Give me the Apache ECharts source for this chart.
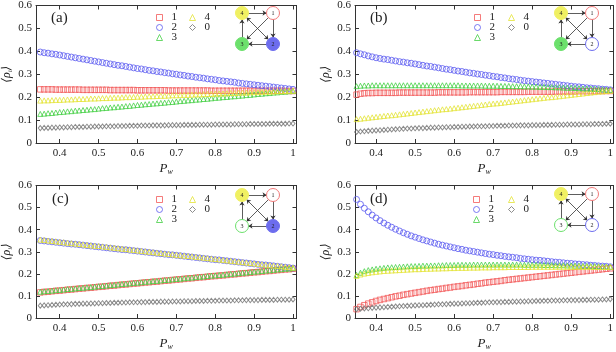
<!DOCTYPE html>
<html><head><meta charset="utf-8">
<script src="https://cdn.jsdelivr.net/npm/echarts@6/dist/echarts.min.js"></script>
<style>html,body{margin:0;padding:0;background:#fff}#c{width:616px;height:352px}</style>
</head><body><div id="c"></div>
<script>
const xs = [0.35,0.36,0.37,0.38,0.39,0.40,0.41,0.42,0.43,0.44,0.45,0.46,0.47,0.48,0.49,0.50,0.51,0.52,0.53,0.54,0.55,0.56,0.57,0.58,0.59,0.60,0.61,0.62,0.63,0.64,0.65,0.66,0.67,0.68,0.69,0.70,0.71,0.72,0.73,0.74,0.75,0.76,0.77,0.78,0.79,0.80,0.81,0.82,0.83,0.84,0.85,0.86,0.87,0.88,0.89,0.90,0.91,0.92,0.93,0.94,0.95,0.96,0.97,0.98,0.99,1.00];
const xTicks = [0.4,0.5,0.6,0.7,0.8,0.9,1.0];
const seriesNames = ['1','2','3','4','0'];
const panelLabels = ['(a)','(b)','(c)','(d)'];
const xName = 'P';
const xSub = 'w';

// panel (a)
const a1 = [.234,.234,.234,.234,.233,.233,.233,.233,.233,.233,.233,.232,.232,.232,.232,.232,.232,.232,.231,.231,.231,.231,.231,.231,.231,.230,.230,.230,.230,.230,.230,.230,.230,.229,.229,.229,.229,.229,.229,.229,.229,.229,.229,.229,.228,.228,.228,.228,.228,.228,.228,.228,.228,.228,.228,.228,.228,.228,.228,.228,.228,.228,.228,.227,.227,.227];
const a2 = [.397,.394,.392,.389,.387,.384,.381,.378,.375,.372,.369,.366,.363,.360,.357,.354,.351,.348,.345,.342,.339,.337,.334,.331,.328,.325,.323,.320,.317,.315,.312,.310,.307,.305,.302,.300,.297,.295,.292,.290,.287,.285,.283,.280,.278,.276,.273,.271,.269,.267,.265,.262,.260,.258,.256,.254,.252,.250,.248,.246,.244,.242,.240,.238,.236,.234];
const a3 = [.127,.128,.130,.131,.133,.135,.136,.138,.139,.141,.142,.144,.145,.147,.148,.150,.152,.153,.155,.156,.158,.159,.161,.162,.164,.166,.167,.169,.170,.172,.173,.175,.176,.178,.179,.181,.183,.184,.186,.187,.189,.190,.192,.193,.195,.197,.198,.200,.201,.203,.204,.206,.207,.209,.210,.212,.214,.215,.217,.218,.220,.221,.223,.224,.226,.227];
const a4 = [.185,.186,.186,.187,.188,.188,.189,.190,.190,.191,.192,.192,.193,.194,.194,.195,.196,.196,.197,.198,.198,.199,.200,.200,.201,.202,.202,.203,.204,.204,.205,.206,.206,.207,.208,.208,.209,.210,.210,.211,.212,.212,.213,.214,.214,.215,.216,.216,.217,.218,.218,.219,.220,.220,.221,.222,.222,.223,.224,.224,.225,.226,.226,.227,.228,.228];
const a0 = [.065,.066,.066,.067,.067,.068,.068,.069,.069,.070,.070,.070,.071,.071,.072,.072,.072,.073,.073,.073,.074,.074,.074,.075,.075,.075,.076,.076,.076,.077,.077,.077,.077,.078,.078,.078,.078,.079,.079,.079,.079,.080,.080,.080,.080,.081,.081,.081,.081,.081,.082,.082,.082,.082,.083,.083,.083,.083,.083,.084,.084,.084,.084,.084,.085,.085];
// panel (b)
const b1 = [.211,.215,.217,.218,.218,.219,.219,.219,.219,.219,.219,.220,.220,.220,.220,.220,.220,.220,.220,.220,.220,.221,.221,.221,.221,.221,.221,.221,.221,.222,.222,.222,.222,.222,.222,.222,.222,.223,.223,.223,.223,.223,.223,.223,.224,.224,.224,.224,.224,.224,.224,.225,.225,.225,.225,.225,.225,.226,.226,.226,.226,.226,.227,.227,.227,.227];
const b2 = [.394,.389,.385,.380,.376,.372,.369,.366,.364,.361,.358,.355,.353,.350,.348,.345,.342,.339,.336,.334,.331,.328,.325,.322,.320,.317,.314,.312,.309,.306,.304,.301,.299,.296,.294,.291,.289,.286,.284,.281,.279,.277,.274,.272,.270,.268,.266,.264,.262,.260,.258,.256,.254,.252,.250,.248,.246,.245,.243,.241,.240,.238,.237,.235,.234,.232];
const b3 = [.248,.250,.251,.251,.252,.252,.252,.252,.252,.252,.252,.252,.252,.252,.252,.252,.252,.252,.252,.252,.252,.252,.252,.252,.252,.252,.252,.251,.251,.251,.251,.251,.251,.250,.250,.250,.250,.249,.249,.249,.248,.248,.248,.247,.247,.246,.246,.245,.245,.244,.244,.243,.243,.242,.241,.241,.240,.239,.238,.238,.237,.236,.235,.234,.233,.232];
const b4 = [.104,.106,.108,.110,.112,.114,.116,.118,.120,.121,.123,.125,.127,.129,.131,.133,.135,.137,.139,.141,.143,.145,.147,.148,.150,.152,.154,.156,.158,.160,.162,.164,.166,.168,.170,.172,.173,.175,.177,.179,.181,.183,.185,.187,.189,.191,.193,.195,.197,.199,.200,.202,.204,.206,.208,.210,.212,.214,.216,.218,.220,.222,.224,.225,.227,.228];
const b0 = [.048,.050,.051,.053,.054,.055,.056,.057,.058,.059,.060,.061,.062,.063,.063,.064,.065,.065,.066,.067,.067,.068,.068,.069,.069,.070,.070,.071,.071,.072,.072,.073,.073,.073,.074,.074,.075,.075,.075,.076,.076,.076,.077,.077,.077,.078,.078,.078,.079,.079,.079,.080,.080,.080,.081,.081,.081,.081,.082,.082,.082,.083,.083,.083,.084,.084];
// panel (c)
const c1 = [.116,.118,.119,.121,.123,.124,.126,.128,.129,.131,.133,.134,.136,.137,.139,.141,.142,.144,.146,.147,.149,.151,.152,.154,.156,.157,.159,.161,.162,.164,.165,.167,.169,.170,.172,.174,.175,.177,.179,.180,.182,.184,.185,.187,.189,.190,.192,.193,.195,.197,.198,.200,.202,.203,.205,.207,.208,.210,.212,.213,.215,.217,.218,.220,.221,.223];
const c2 = [.351,.349,.347,.345,.343,.341,.339,.337,.335,.334,.332,.330,.328,.326,.324,.322,.320,.318,.316,.314,.312,.310,.309,.307,.305,.303,.301,.299,.297,.295,.293,.291,.289,.287,.286,.284,.282,.280,.278,.276,.274,.272,.270,.268,.266,.264,.263,.261,.259,.257,.255,.253,.251,.249,.247,.245,.243,.241,.240,.238,.236,.234,.232,.230,.228,.226];
const c3 = [.119,.121,.122,.124,.126,.127,.129,.131,.132,.134,.136,.137,.139,.140,.142,.144,.145,.147,.149,.150,.152,.154,.155,.157,.159,.160,.162,.164,.165,.167,.168,.170,.172,.173,.175,.177,.178,.180,.182,.183,.185,.187,.188,.190,.192,.193,.195,.196,.198,.200,.201,.203,.205,.206,.208,.210,.211,.213,.215,.216,.218,.220,.221,.223,.224,.226];
const c4 = [.355,.353,.351,.349,.347,.345,.343,.341,.339,.337,.335,.333,.331,.329,.327,.326,.324,.322,.320,.318,.316,.314,.312,.310,.308,.306,.304,.302,.300,.298,.296,.294,.292,.290,.288,.286,.284,.282,.281,.279,.277,.275,.273,.271,.269,.267,.265,.263,.261,.259,.257,.255,.253,.251,.249,.247,.245,.243,.241,.239,.237,.236,.234,.232,.230,.228];
const c0 = [.056,.057,.058,.059,.060,.061,.062,.062,.063,.064,.064,.065,.065,.066,.066,.067,.067,.068,.068,.069,.069,.070,.070,.071,.071,.071,.072,.072,.073,.073,.073,.074,.074,.074,.075,.075,.075,.076,.076,.076,.077,.077,.077,.078,.078,.078,.079,.079,.079,.079,.080,.080,.080,.081,.081,.081,.081,.082,.082,.082,.082,.083,.083,.083,.083,.084];
// panel (d)
const d1 = [.040,.050,.058,.065,.071,.077,.082,.086,.090,.094,.098,.101,.105,.108,.111,.114,.117,.120,.123,.126,.128,.131,.133,.136,.138,.141,.143,.145,.148,.150,.152,.155,.157,.160,.162,.164,.166,.168,.171,.173,.175,.177,.179,.181,.183,.185,.187,.189,.191,.193,.195,.197,.199,.201,.203,.205,.207,.209,.211,.213,.215,.217,.219,.221,.223,.225];
const d2 = [.537,.515,.497,.481,.466,.453,.441,.430,.420,.411,.402,.394,.386,.379,.372,.366,.360,.354,.349,.344,.339,.334,.330,.326,.322,.318,.314,.311,.307,.304,.301,.298,.295,.292,.289,.287,.284,.282,.279,.277,.275,.273,.270,.268,.266,.264,.262,.261,.259,.257,.255,.253,.252,.250,.248,.247,.245,.244,.242,.241,.239,.238,.236,.235,.234,.232];
const d3 = [.195,.205,.212,.217,.220,.223,.225,.227,.229,.230,.231,.232,.233,.234,.235,.235,.236,.237,.237,.238,.238,.239,.239,.240,.240,.240,.241,.241,.241,.241,.242,.242,.242,.242,.242,.242,.242,.242,.242,.242,.242,.242,.242,.241,.241,.241,.241,.241,.240,.240,.240,.239,.239,.239,.238,.238,.237,.237,.236,.236,.235,.235,.234,.233,.233,.232];
const d4 = [.191,.197,.201,.204,.207,.209,.211,.213,.214,.215,.216,.217,.218,.219,.220,.221,.221,.222,.223,.223,.224,.224,.225,.225,.226,.226,.227,.227,.227,.228,.228,.228,.229,.229,.229,.230,.230,.230,.230,.231,.231,.231,.231,.231,.231,.232,.232,.232,.232,.232,.232,.232,.232,.232,.232,.232,.232,.232,.232,.232,.232,.231,.231,.231,.231,.231];
const d0 = [.040,.042,.043,.044,.046,.047,.048,.049,.050,.051,.052,.053,.054,.055,.056,.057,.058,.058,.059,.060,.061,.062,.062,.063,.064,.065,.065,.066,.067,.067,.068,.069,.069,.070,.071,.071,.072,.072,.073,.073,.074,.074,.075,.075,.076,.076,.077,.077,.078,.078,.079,.079,.079,.080,.080,.081,.081,.081,.082,.082,.083,.083,.083,.084,.084,.085];

const panelData = [
  {'1':a1,'2':a2,'3':a3,'4':a4,'0':a0},
  {'1':b1,'2':b2,'3':b3,'4':b4,'0':b0},
  {'1':c1,'2':c2,'3':c3,'4':c4,'0':c0},
  {'1':d1,'2':d2,'3':d3,'4':d4,'0':d0}
];
// which network nodes are filled (1,2,3,4)
const nodeFilled = [
  [false,true,true,true],
  [false,false,true,true],
  [false,true,false,true],
  [false,false,false,true]
];

// ---- styles & layout ----
const SERIF = 'Liberation Serif, DejaVu Serif, serif';
const styles = {
  '1': {symbol:'rect', size:5.5, color:'#f25a5a'},
  '2': {symbol:'circle', size:6, color:'#5a5af0'},
  '3': {symbol:'triangle', size:5, color:'#45d045'},
  '4': {symbol:'triangle', size:5, color:'#e4e436'},
  '0': {symbol:'diamond', size:[4,5], color:'#707070'}
};
const nodeColors = ['#f07878','#6d6dee','#6ce06c','#f0f062'];
const NET = 31; // node spacing in px
const L = [
  {grid:{left:36,top:5,width:260.5,height:138}, xmin:0.339, xmax:1.009, title:[51,11], leg1:[156,12], leg2:[189,12], net:[242,13]},
  {grid:{left:355,top:5,width:260,height:138}, xmin:0.346, xmax:1.008, title:[370,11], leg1:[474,12], leg2:[508,12], net:[561,13]},
  {grid:{left:36,top:185.5,width:260.5,height:138.5}, xmin:0.339, xmax:1.009, title:[52,192], leg1:[156,194], leg2:[189,194], net:[242,195]},
  {grid:{left:355,top:185.5,width:260,height:139}, xmin:0.346, xmax:1.008, title:[370,192], leg1:[473,194], leg2:[508,194], net:[561,194]}
];

const axisCol = '#333';
const option = {animation:false, grid:[], xAxis:[], yAxis:[], series:[], legend:[], title:[]};
L.forEach((p, k) => {
  option.grid.push(Object.assign({containLabel:false}, p.grid));
  const tick = {show:true, inside:true, length:4, lineStyle:{color:axisCol,width:1}, customValues:xTicks};
  option.xAxis.push({type:'value', gridIndex:k, position:'bottom', min:p.xmin, max:p.xmax,
    axisLine:{show:true, onZero:false, lineStyle:{color:axisCol,width:1}},
    axisTick:tick, splitLine:{show:false},
    axisLabel:{customValues:xTicks, margin:5, fontFamily:SERIF, fontSize:11, color:'#222',
      formatter:v => (Math.abs(v-1)<1e-9 ? '1' : v.toFixed(1))},
    name:'{p|' + xName + '}{s|' + xSub + '}', nameLocation:'middle', nameGap:19,
    nameTextStyle:{rich:{p:{fontFamily:SERIF, fontStyle:'italic', fontSize:13, color:'#222', lineHeight:14},
                          s:{fontFamily:SERIF, fontStyle:'italic', fontSize:8, color:'#222', verticalAlign:'bottom', lineHeight:14, padding:[6,0,0,0]}}}
  });
  option.xAxis.push({type:'value', gridIndex:k, position:'top', min:p.xmin, max:p.xmax,
    axisLine:{show:true, onZero:false, lineStyle:{color:axisCol,width:1}},
    axisTick:tick, axisLabel:{show:false}, splitLine:{show:false}});
  const ytick = {show:true, inside:true, length:4, lineStyle:{color:axisCol,width:1}};
  option.yAxis.push({type:'value', gridIndex:k, position:'left', min:0, max:0.6, interval:0.1,
    axisLine:{show:true, onZero:false, lineStyle:{color:axisCol,width:1}},
    axisTick:ytick, splitLine:{show:false},
    axisLabel:{margin:4, fontFamily:SERIF, fontSize:11, color:'#222', formatter:v => (v===0 ? '0' : v.toFixed(1))},
    name:'{t|⟨ρ}{s|i}{t|⟩}', nameLocation:'middle', nameGap:22, nameRotate:90,
    nameTextStyle:{rich:{t:{fontFamily:SERIF, fontStyle:'italic', fontSize:12, color:'#222', lineHeight:14},
                          s:{fontFamily:SERIF, fontStyle:'italic', fontSize:7, color:'#222', verticalAlign:'bottom', lineHeight:14}}}
  });
  option.yAxis.push({type:'value', gridIndex:k, position:'right', min:0, max:0.6, interval:0.1,
    axisLine:{show:true, onZero:false, lineStyle:{color:axisCol,width:1}},
    axisTick:ytick, axisLabel:{show:false}, splitLine:{show:false}});

  seriesNames.forEach(n => {
    const st = styles[n];
    option.series.push({type:'scatter', name:n, xAxisIndex:2*k, yAxisIndex:2*k, symbol:st.symbol, symbolSize:st.size,
      itemStyle:{color:'rgba(0,0,0,0)', borderColor:st.color, borderWidth:1},
      emphasis:{disabled:true}, silent:true,
      data: xs.map((x,i) => [x, panelData[k][n][i]])});
  });

  const legBase = {orient:'vertical', padding:0, itemGap:-1, itemWidth:6, itemHeight:6, selectedMode:false,
    textStyle:{fontFamily:SERIF, fontSize:11, color:'#222', lineHeight:9, padding:[0,0,0,4]},
    itemStyle:{borderWidth:1}};
  option.legend.push(Object.assign({}, legBase, {left:p.leg1[0], top:p.leg1[1], data:['1','2','3']}));
  option.legend.push(Object.assign({}, legBase, {left:p.leg2[0], top:p.leg2[1], data:['4','0']}));

  option.title.push({text:panelLabels[k], left:p.title[0], top:p.title[1], padding:0,
    textStyle:{fontFamily:SERIF, fontSize:15, fontWeight:'normal', color:'#222'}});

  const pos = [[1,0],[1,1],[0,1],[0,0]];
  const nodes = pos.map((q, j) => {
    const filled = nodeFilled[k][j];
    return {name:'N' + (j+1), x:q[0]*NET, y:q[1]*NET,
      label:{formatter:String(j+1)},
      itemStyle:{color: filled ? nodeColors[j] : '#fff', borderColor:nodeColors[j], borderWidth:1}};
  });
  option.series.push({type:'graph', layout:'none', left:p.net[0], top:p.net[1], width:NET, height:NET,
    roam:false, silent:true, symbol:'circle', symbolSize:13, z:5, nodeScaleRatio:0,
    label:{show:true, position:'inside', fontSize:6, color:'#222', fontFamily:SERIF},
    edgeSymbol:['none','arrow'], edgeSymbolSize:4,
    lineStyle:{color:'#333', width:0.8, opacity:1, curveness:0},
    data:nodes,
    links:[
      {source:3, target:0},
      {source:0, target:1},
      {source:1, target:2},
      {source:2, target:3},
      {source:0, target:2},
      {source:1, target:3, symbol:['arrow','arrow']}
    ]});
});

const chart = echarts.init(document.getElementById('c'), null, {renderer:'canvas'});
chart.setOption(option);
</script></body></html>
